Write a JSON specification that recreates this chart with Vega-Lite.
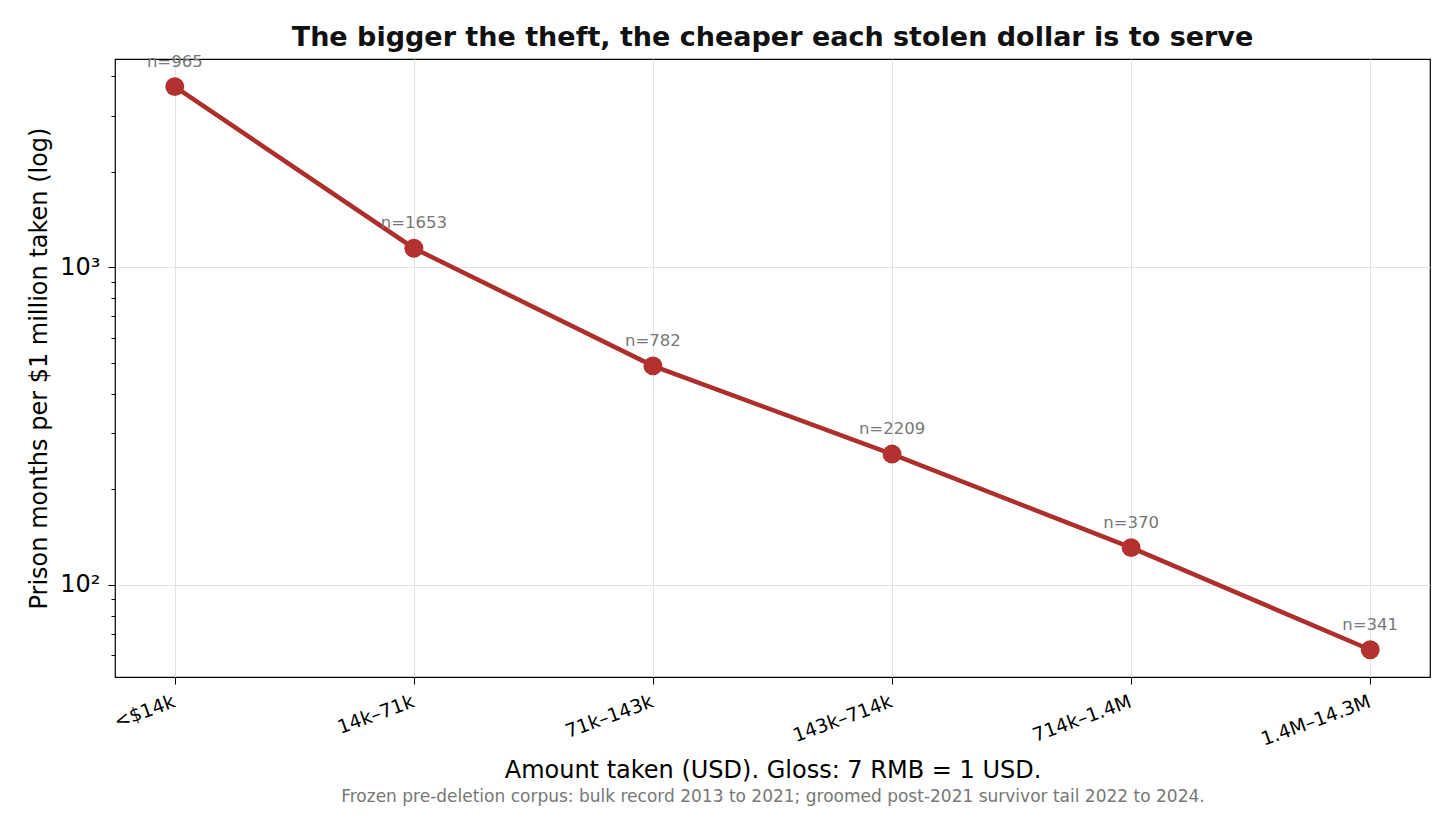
{
  "$schema": "https://vega.github.io/schema/vega-lite/v6.json",
  "background": "white",
  "padding": {"left": 27, "top": 23, "right": 26, "bottom": 10},
  "config": {
    "font": "DejaVu Sans",
    "view": {"stroke": "black", "strokeWidth": 1.2}
  },
  "title": {
    "text": "Frozen pre-deletion corpus: bulk record 2013 to 2021; groomed post-2021 survivor tail 2022 to 2024.",
    "orient": "bottom",
    "anchor": "middle",
    "fontSize": 17,
    "fontWeight": "normal",
    "color": "#777777",
    "offset": 6,
    "dx": 44
  },
  "vconcat": [
    {
      "width": 1315,
      "height": 618,
      "title": {
        "text": "The bigger the theft, the cheaper each stolen dollar is to serve",
        "fontSize": 27,
        "fontWeight": "bold",
        "color": "#111111",
        "offset": 1.5
      },
      "data": {
        "values": [
          {"bin": "<$14k", "months": 3700, "label": "n=965"},
          {"bin": "14k–71k", "months": 1147, "label": "n=1653"},
          {"bin": "71k–143k", "months": 489, "label": "n=782"},
          {"bin": "143k–714k", "months": 258, "label": "n=2209"},
          {"bin": "714k–1.4M", "months": 131, "label": "n=370"},
          {"bin": "1.4M–14.3M", "months": 62.5, "label": "n=341"}
        ]
      },
      "encoding": {
        "x": {
          "field": "bin",
          "type": "ordinal",
          "sort": null,
          "scale": {"type": "point", "padding": 0.25},
          "axis": {
            "title": "Amount taken (USD). Gloss: 7 RMB = 1 USD.",
            "titleFontSize": 24,
            "titleFontWeight": "normal",
            "titleColor": "black",
            "titlePadding": 9,
            "labelAngle": -20,
            "labelAlign": "right",
            "labelBaseline": "top",
            "labelFontSize": 19,
            "labelColor": "black",
            "labelPadding": 8,
            "labelOffset": -4,
            "tickSize": 7,
            "tickColor": "black",
            "domain": false,
            "grid": true,
            "gridColor": "#e2e2e2"
          }
        },
        "y": {
          "field": "months",
          "type": "quantitative",
          "scale": {"type": "log", "domain": [51.3, 4520], "nice": false, "zero": false},
          "axis": {
            "title": "Prison months per $1 million taken (log)",
            "titleFontSize": 24,
            "titleFontWeight": "normal",
            "titleColor": "black",
            "titlePadding": 8,
            "values": [60, 70, 80, 90, 100, 200, 300, 400, 500, 600, 700, 800, 900, 1000, 2000, 3000, 4000],
            "labelExpr": "datum.value == 100 ? '10²' : datum.value == 1000 ? '10³' : ''",
            "labelFontSize": 24,
            "labelColor": "black",
            "labelPadding": 8,
            "tickColor": "black",
            "tickSize": {"condition": {"test": "datum.value == 100 || datum.value == 1000", "value": 7}, "value": 4},
            "domain": false,
            "grid": true,
            "gridColor": "#e2e2e2",
            "gridOpacity": {"condition": {"test": "datum.value == 100 || datum.value == 1000", "value": 1}, "value": 0}
          }
        }
      },
      "layer": [
        {
          "mark": {"type": "line", "color": "#ad2e2b", "strokeWidth": 4.5}
        },
        {
          "mark": {"type": "point", "filled": true, "color": "#b33230", "opacity": 1, "size": 360}
        },
        {
          "mark": {"type": "text", "color": "#777777", "fontSize": 16.5, "dy": -25, "baseline": "middle"},
          "encoding": {"text": {"field": "label"}}
        }
      ]
    }
  ]
}
